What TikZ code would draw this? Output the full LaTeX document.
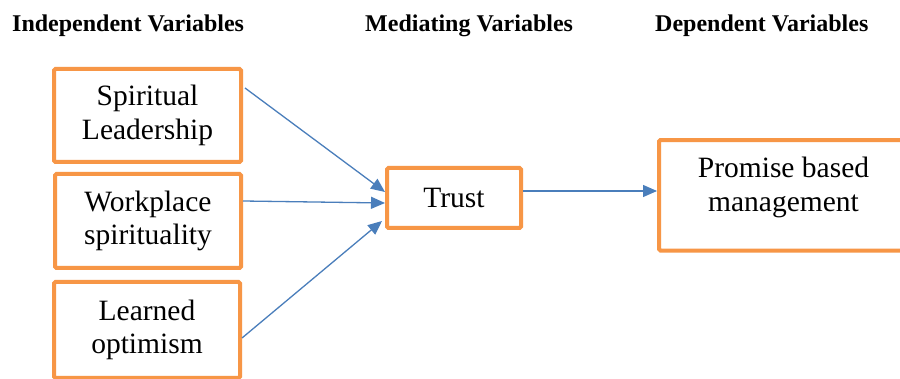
\documentclass[tikz,border=0pt]{standalone}
\usepackage{fontspec}
\setmainfont{Liberation Serif}
\usetikzlibrary{arrows.meta}
\definecolor{boxorange}{HTML}{F79646}
\definecolor{arrowblue}{HTML}{4A7EBB}
\tikzset{
  varbox/.style={draw=boxorange, line width=4pt, rounded corners=1.5pt, fill=white,
    inner sep=0pt, align=center, font=\fontsize{29.5}{33.5}\selectfont},
  bodytext/.style={inner sep=0pt, align=center, font=\fontsize{29.5}{33.5}\selectfont},
  heading/.style={inner sep=0pt, anchor=base west, font=\fontsize{24}{28}\selectfont\bfseries},
  link/.style={draw=arrowblue, line width=1.3pt, -{Triangle[length=14pt,width=12pt]}}
}
\begin{document}
\begin{tikzpicture}[x=1pt,y=-1pt]
\useasboundingbox (0,0) rectangle (900,379);
\clip (0,0) rectangle (900,379);
\fill[white] (0,0) rectangle (900,379);

\node[heading] (h1) at (12,32) {Independent Variables};
\node[heading] (h2) at (365,32) {Mediating Variables};
\node[heading] (h3) at (655,32) {Dependent Variables};

\node[varbox, minimum width=187pt, minimum height=93pt] (b1) at (147.5,115.5) {Spiritual\\Leadership};
\node[varbox, minimum width=186pt, minimum height=94pt] (b2) at (148,221) {Workplace\\spirituality};
\node[varbox, minimum width=186pt, minimum height=96pt] (b3) at (147,330) {Learned\\optimism};
\node[varbox, minimum width=134pt, minimum height=60pt] (tr) at (454,198) {Trust};
\node[varbox, minimum width=249pt, minimum height=110.5pt] (pbm) at (783.5,195.3) {};
\node[bodytext] (pbmtext) at ([yshift=8pt]pbm.center) {Promise based\\management};

\draw[link] ([xshift=2pt,yshift=27.5pt]b1.east) -- ([yshift=6pt]tr.west);
\draw[link] ([yshift=20pt]b2.east) -- ([yshift=-5pt]tr.west);
\draw[link] ([yshift=-8pt]b3.east) -- ([xshift=-3pt,yshift=-23pt]tr.west);
\draw[link] ([yshift=7pt]tr.east) -- ([yshift=4.3pt]pbm.west);
\end{tikzpicture}
\end{document}
